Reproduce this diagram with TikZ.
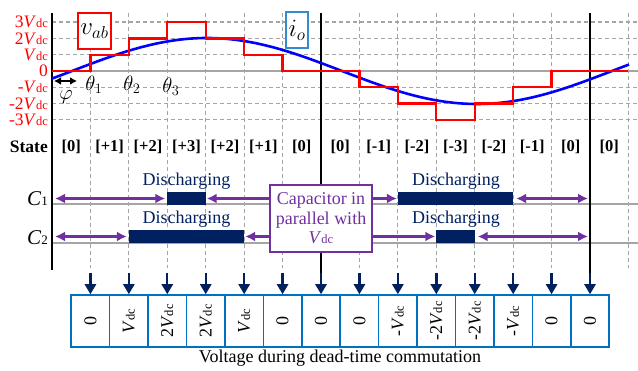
\documentclass[tikz,border=0pt]{standalone}
\usepackage{fontspec}
\setmainfont{Liberation Serif}
\usetikzlibrary{arrows.meta}

\definecolor{navy}{HTML}{002060}
\definecolor{capviolet}{HTML}{7030A0}
\definecolor{boxblue}{HTML}{0070C0}
\definecolor{gridgray}{RGB}{165,165,165}

\newcommand{\Vdc}{\textit{V}{\fontsize{12.5}{12.5}\selectfont dc}}

\begin{document}
\begin{tikzpicture}[x=1pt,y=-1pt]
    \tikzstyle{gridline}=[gridgray,line width=1.2pt,dash pattern=on 4pt off 3pt]
    \tikzstyle{axis}=[black,line width=2pt]
    \tikzstyle{link}=[capviolet,line width=2.3pt,-{Latex[length=10pt,width=10pt]}]
    \tikzstyle{twoway}=[link,{Latex[length=10pt,width=10pt]}-{Latex[length=10pt,width=10pt]}]
    \tikzstyle{drop}=[navy,line width=2.4pt,-{Triangle[length=10pt,width=11pt]}]
\tikzset{level/.style={anchor=east,red,inner sep=0pt,font=\fontsize{17.5}{17.5}\selectfont},
state/.style={font=\bfseries\fontsize{16.5}{16.5}\selectfont},
bar/.style={fill=navy,inner sep=0pt,outer sep=0pt,anchor=south west,minimum height=13pt},
vbox/.style={draw=boxblue,line width=1.5pt,fill=white,rotate=90,minimum width=52pt,
  minimum height=38.43pt,inner sep=0pt,font=\fontsize{18}{18}\selectfont}}
\useasboundingbox (0,0) rectangle (638,371);

% grid
\foreach \k in {1,...,6,8,9,...,13,15}
  \draw[gridline] (52+\k*38.43,13) -- (52+\k*38.43,268);
\foreach \l in {-3,-2,-1,1,2,3}
  \draw[gridline] (52,71-\l*16.3) -- (638,71-\l*16.3);
\draw[gridgray,line width=1.6pt] (52,71) -- (638,71);
\draw[gridgray,line width=1.6pt] (52,204) -- (638,204);
\draw[gridgray,line width=1.6pt] (52,243) -- (638,243);

\draw[axis] (52,13) -- (52,270);
\draw[axis] (321.01,13) -- (321.01,273);
\draw[axis] (590.02,13) -- (590.02,273);

% voltage levels
\node[level] (l3) at (48,22.1) {3\Vdc};
\node[level] (l2) at (48,38.4) {2\Vdc};
\node[level] (l1) at (48,54.7) {\Vdc};
\node[level] (l0) at (48,71) {0};
\node[level] (m1) at (48,87.3) {-\Vdc};
\node[level] (m2) at (48,103.6) {-2\Vdc};
\node[level] (m3) at (48,119.9) {-3\Vdc};

% waveforms
\draw[blue,line width=2.6pt,domain=52:629,samples=120]
  plot (\x,{71-33*sin(0.66667*(\x-72))});
\draw[red,line width=2.3pt] (52,71) -| (90.43,54.7) -| (128.86,38.4) -| (167.29,22.1)
  -| (205.72,38.4) -| (244.15,54.7) -| (282.58,71) -| (359.44,87.3) -| (397.87,103.6)
  -| (436.3,119.9) -| (474.73,103.6) -| (513.16,87.3) -| (551.59,71) -- (628.45,71);

\node[draw=red,line width=1.6pt,fill=white,minimum width=33pt,minimum height=36pt,inner sep=0pt,
  font=\fontsize{23}{23}\selectfont] (vab) at (94.5,31) {$v_{ab}$};
\node[draw=boxblue!80,line width=1.6pt,fill=white,minimum width=22pt,minimum height=36pt,inner sep=0pt,
  font=\fontsize{23}{23}\selectfont] (io) at (297,30) {$i_o$};

\node[font=\fontsize{21}{21}\selectfont] (t1) at (94,85) {$\theta_1$};
\node[font=\fontsize{21}{21}\selectfont] (t2) at (132,85) {$\theta_2$};
\node[font=\fontsize{21}{21}\selectfont] (t3) at (171,87) {$\theta_3$};
\node[font=\fontsize{21}{21}\selectfont] (phi) at (66,97) {$\varphi$};
\coordinate (p0) at (54,81);
\coordinate (p1) at (77,81);
\draw[{Latex[length=7pt,width=8pt]}-{Latex[length=7pt,width=8pt]},line width=1.8pt] (p0) -- (p1);

% states
\node[anchor=east,inner sep=0pt,font=\bfseries\fontsize{17.5}{17.5}\selectfont] (st) at (48,147) {State};
\foreach \k/\s in {0/[0],1/[+1],2/[+2],3/[+3],4/[+2],5/[+1],6/[0],7/[0],8/[-1],9/[-2],
  10/[-3],11/[-2],12/[-1],13/[0],14/[0]}
  \node[state] (s\k) at (52+\k*38.43+19.2,147) {\s};

% capacitors
\node[anchor=east,inner sep=0pt,font=\fontsize{21}{21}\selectfont] (c1) at (48,199) {\textit{C}{\fontsize{13}{13}\selectfont 1}};
\node[anchor=east,inner sep=0pt,font=\fontsize{21}{21}\selectfont] (c2) at (48,238) {\textit{C}{\fontsize{13}{13}\selectfont 2}};

\node[bar,minimum width=38.43pt] (c1a) at (167.29,205) {};
\node[bar,minimum width=115.29pt] (c1b) at (397.87,205) {};
\node[bar,minimum width=115.29pt] (c2a) at (128.86,243) {};
\node[bar,minimum width=38.43pt] (c2b) at (436.3,243) {};

\node[navy,font=\fontsize{18}{18}\selectfont] (d1) at (186.5,181) {Discharging};
\node[navy,font=\fontsize{18}{18}\selectfont] (d2) at (186.5,219) {Discharging};
\node[navy,font=\fontsize{18}{18}\selectfont] (d3) at (456,181) {Discharging};
\node[navy,font=\fontsize{18}{18}\selectfont] (d4) at (456,219) {Discharging};

\node[draw=capviolet,line width=1.8pt,fill=white,text=capviolet,minimum width=102pt,minimum height=67pt,
  inner sep=0pt,align=center,font=\fontsize{18}{19.5}\selectfont] (cap) at (321,218.5)
  {Capacitor in\\parallel with\\\Vdc};

\coordinate (c1s) at (55,198.5);
\coordinate (c1e) at (588,198.5);
\coordinate (c2s) at (55,236.5);
\coordinate (c2e) at (588,236.5);
\draw[twoway] (c1s) -- ([xshift=-2pt]c1a.west);
\draw[link] (cap.west |- c1a.east) -- ([xshift=1pt]c1a.east);
\draw[link] (cap.east |- c1b.west) -- ([xshift=-1pt]c1b.west);
\draw[twoway] ([xshift=3pt]c1b.east) -- (c1e);
\draw[twoway] (c2s) -- ([xshift=-2pt]c2a.west);
\draw[link] (cap.west |- c2a.east) -- ([xshift=1pt]c2a.east);
\draw[link] (cap.east |- c2b.west) -- ([xshift=-1pt]c2b.west);
\draw[twoway] ([xshift=3pt]c2b.east) -- (c2e);

% dead-time voltages
\foreach \k/\v in {1/0,2/\Vdc,3/2\Vdc,4/2\Vdc,5/\Vdc,6/0,7/0,8/0,9/-\Vdc,10/-2\Vdc,
  11/-2\Vdc,12/-\Vdc,13/0,14/0}{
  \node[vbox] (b\k) at (52+\k*38.43,321) {\v};
  \coordinate (a\k) at (52+\k*38.43,273);
  \draw[drop] (a\k) -- (b\k);
}
\node[font=\fontsize{18}{18}\selectfont] (cap2) at (340,358) {Voltage during dead-time commutation};

  \end{tikzpicture}
\end{document}
